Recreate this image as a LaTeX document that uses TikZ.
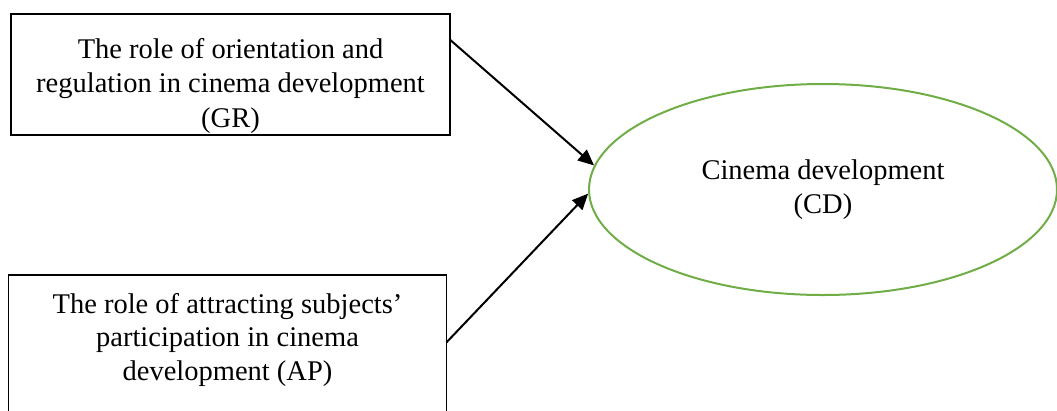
\documentclass[tikz,border=0pt]{standalone}
\usepackage{fontspec}
\setmainfont{Liberation Serif}
\usetikzlibrary{arrows.meta,shapes.geometric}
\definecolor{cdgreen}{RGB}{112,173,71}
\tikzset{
  factor/.style={draw=black, line width=1.5pt, inner sep=0pt, outer sep=0pt},
  construct/.style={draw=cdgreen, line width=2pt, ellipse, inner sep=0pt, align=center,
    minimum width=468pt, minimum height=211pt, font=\fontsize{28.5pt}{34pt}\selectfont},
  link/.style={line width=2pt, -{Triangle[length=16pt,width=14pt]}}
}
\begin{document}
\begin{tikzpicture}[x=1pt,y=-1pt]
\useasboundingbox (0,0) rectangle (1057,410);
\clip (0,0) rectangle (1057,410);
\node[factor] (gr) at (230.5,74.5) {\parbox[c][121pt][t]{439pt}{\centering\fontsize{28.5pt}{34.5pt}\selectfont\vspace*{24pt}The role of orientation and\\ regulation in cinema development\\ (GR)}};
\node[factor] (ap) at (227.5,350) {\parbox[c][150pt][t]{438pt}{\centering\fontsize{28.5pt}{33.5pt}\selectfont\vspace*{18pt}The role of attracting subjects’\\ participation in cinema\\ development (AP)}};
\node[construct] (cd) at (823,189.5) {Cinema development\\ (CD)};
\draw[link] (gr.9) -- (cd.174);
\draw[link] (ap.2) -- (cd.181);
\end{tikzpicture}
\end{document}
